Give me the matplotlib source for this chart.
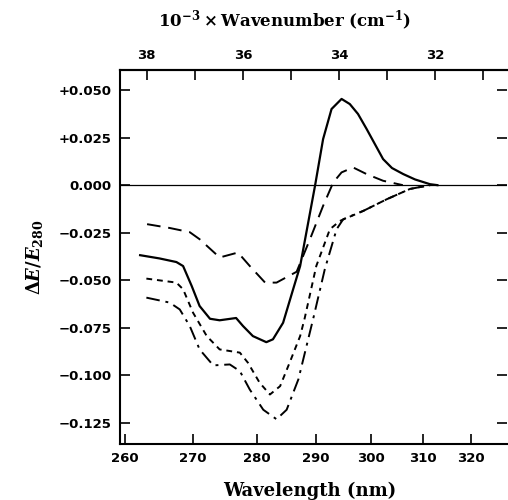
import numpy as np
import matplotlib
matplotlib.use("Agg")
import matplotlib.pyplot as plt
from matplotlib.ticker import FixedLocator

plt.rcParams['font.family'] = ['DejaVu Serif']
plt.rcParams['mathtext.fontset'] = 'custom'
plt.rcParams['mathtext.rm'] = 'DejaVu Serif:bold'
plt.rcParams['mathtext.it'] = 'DejaVu Serif:italic:bold'
plt.rcParams['mathtext.bf'] = 'DejaVu Serif:bold'

# wavelength (nm) and delta E / E280 for each curve
solid_wl = [262.2, 265.0, 267.5, 268.5, 269.8, 271.0, 272.6, 274.1, 276.7, 277.8, 279.4,
            281.6, 282.7, 284.4, 286.1, 287.3, 289.9, 291.3, 292.8, 294.6, 296.1, 297.6,
            299.2, 302.3, 304.0, 306.2, 308.5, 311.5, 313.0]
solid_v = [-0.0368, -0.0385, -0.0404, -0.0425, -0.0530, -0.0635, -0.0702, -0.0710, -0.0698,
           -0.0740, -0.0793, -0.0825, -0.0810, -0.0723, -0.0547, -0.0425, 0.0000, 0.0242,
           0.0400, 0.0453, 0.0426, 0.0374, 0.0295, 0.0137, 0.0090, 0.0058, 0.0030, 0.0005,
           0.0000]

dash_wl = [263.2, 266.5, 269.5, 271.0, 274.1, 277.0, 278.9, 281.4, 283.3, 286.7, 289.0,
           291.3, 293.1, 294.6, 296.7, 299.2, 302.3, 306.1]
dash_v = [-0.0205, -0.0225, -0.0247, -0.0284, -0.0380, -0.0354, -0.0425, -0.0512, -0.0512,
          -0.0455, -0.0284, -0.0109, 0.0014, 0.0067, 0.0093, 0.0058, 0.0023, 0.0000]

dot_wl = [263.1, 267.5, 268.5, 270.0, 272.1, 274.1, 277.3, 278.6, 280.5, 282.2, 283.9,
          285.5, 287.3, 288.1, 290.1, 292.5, 294.3, 298.6, 303.0, 307.5, 311.5]
dot_v = [-0.0491, -0.0512, -0.0547, -0.0670, -0.0793, -0.0863, -0.0880, -0.0933, -0.1038,
         -0.1100, -0.1056, -0.0933, -0.0793, -0.0697, -0.0425, -0.0232, -0.0188, -0.0135,
         -0.0074, -0.0020, 0.0000]

dashdot_wl = [263.1, 266.5, 268.0, 269.5, 271.0, 273.1, 275.7, 277.3, 278.9, 281.1, 283.3,
              285.0, 287.0, 289.6, 291.6, 293.7, 294.9, 298.6, 303.0, 307.5, 311.5]
dashdot_v = [-0.0591, -0.0617, -0.0653, -0.0740, -0.0863, -0.0947, -0.0942, -0.0977, -0.1074,
             -0.1180, -0.1230, -0.1180, -0.1020, -0.0697, -0.0442, -0.0232, -0.0179, -0.0135,
             -0.0074, -0.0020, 0.0000]

wl_ticks = [260, 270, 280, 290, 300, 310, 320]
wn_ticks = [38, 36, 34, 32]
wn_minor = [37, 35, 33, 31]
y_ticks = [0.050, 0.025, 0.0, -0.025, -0.050, -0.075, -0.100, -0.125]
y_labels = ['+0.050', '+0.025', '0.000', '\u22120.025', '\u22120.050', '\u22120.075',
            '\u22120.100', '\u22120.125']


def wn(wl):
    return 1e4 / np.array(wl)


fig = plt.figure(figsize=(5.08, 5.00), dpi=100)
ax = fig.add_axes([0.236, 0.112, 0.762, 0.748])

ax.axhline(0, color='black', lw=0.9)
ax.plot(wn(solid_wl), solid_v, color='black', lw=1.6, ls='-')
ax.plot(wn(dash_wl), dash_v, color='black', lw=1.4, ls=(0, (7, 4)))
ax.plot(wn(dot_wl), dot_v, color='black', lw=1.4, ls=(0, (3, 2.5)))
ax.plot(wn(dashdot_wl), dashdot_v, color='black', lw=1.4, ls=(0, (7, 3, 1.5, 3)))

ax.set_xlim(38.56, 30.5)
ax.set_ylim(-0.136, 0.0605)

tick_font = dict(family='DejaVu Sans', weight='bold', size=9.5)
ax.set_xticks(wn(wl_ticks))
ax.set_xticklabels([str(w) for w in wl_ticks], fontdict=tick_font)
ax.set_yticks(y_ticks)
ax.set_yticklabels(y_labels, fontdict=tick_font)
ax.tick_params(direction='in', length=7, width=1.2, top=False, right=True, pad=6)
ax.xaxis.set_minor_locator(FixedLocator([]))

for side in ['left', 'bottom', 'top']:
    ax.spines[side].set_linewidth(1.5)
ax.spines['right'].set_visible(False)

top = ax.secondary_xaxis('top', functions=(lambda x: x, lambda x: x))
top.set_xticks(wn_ticks)
top.set_xticklabels([str(t) for t in wn_ticks], fontdict=tick_font)
top.xaxis.set_minor_locator(FixedLocator(wn_minor))
top.tick_params(which='both', direction='in', length=7, width=1.2, pad=6)
top.spines['top'].set_linewidth(1.5)
fig.text(0.561, 0.958, r'$10^{-3}\times \mathrm{Wavenumber\ (cm^{-1})}$', fontsize=12,
         ha='center', va='center')

ax.set_xlabel('Wavelength (nm)', fontsize=13, fontweight='bold', labelpad=8)
ax.xaxis.set_label_coords(0.49, -0.1)
ax.set_ylabel(r'$\mathrm{\Delta}E/E_{\mathrm{280}}$', fontsize=13, labelpad=10)

fig.savefig('out.png', dpi=100)
